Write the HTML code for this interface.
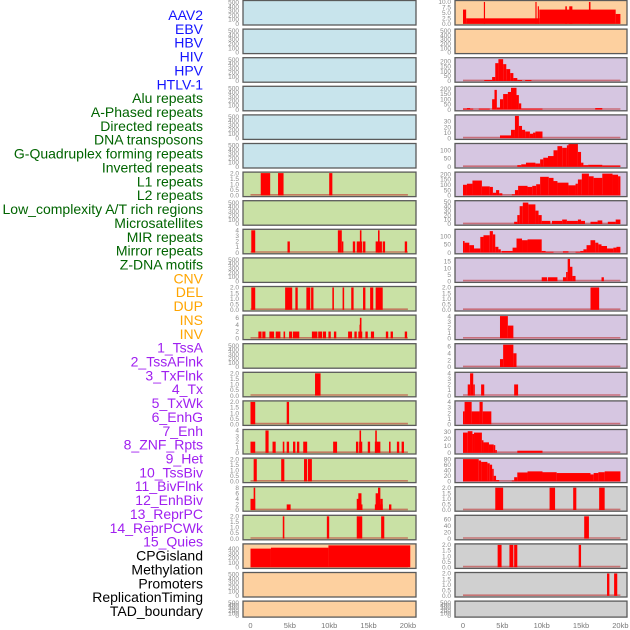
<!DOCTYPE html>
<html><head><meta charset="utf-8"><style>
html,body{margin:0;padding:0;background:#fff;}
svg{display:block;font-family:"Liberation Sans",sans-serif;}
</style></head><body>
<svg id="chart" width="630" height="630" viewBox="0 0 630 630" xmlns="http://www.w3.org/2000/svg"></svg>
<script>
// ---- track labels ----
const trackLabels = ["AAV2","EBV","HBV","HIV","HPV","HTLV-1","Alu repeats","A-Phased repeats","Directed repeats","DNA transposons","G-Quadruplex forming repeats","Inverted repeats","L1 repeats","L2 repeats","Low_complexity A/T rich regions","Microsatellites","MIR repeats","Mirror repeats","Z-DNA motifs","CNV","DEL","DUP","INS","INV","1_TssA","2_TssAFlnk","3_TxFlnk","4_Tx","5_TxWk","6_EnhG","7_Enh","8_ZNF_Rpts","9_Het","10_TssBiv","11_BivFlnk","12_EnhBiv","13_ReprPC","14_ReprPCWk","15_Quies","CPGisland","Methylation","Promoters","ReplicationTiming","TAD_boundary"];
const labelGroupSizes = [6,13,5,15,5];
const labelGroupColors = ["#1414ff","#006400","#ffa500","#a020f0","#000000"];

// ---- x axis ----
const xTicks = [0,5,10,15,20];
const xTickLabels = ["0","5kb","10kb","15kb","20kb"];

// ---- left column tracks (22 rows) ----
const leftFill = ["b","b","b","b","b","b","g","g","g","g","g","g","g","g","g","g","g","g","g","o","o","o"];
const leftYmax = [520,520,520,520,520,520,2,520,4,520,2,6.5,520,2,2,4,2,8,2,480,520,520];
const leftTicks = [
 [0,100,200,300,400,500],[0,100,200,300,400,500],[0,100,200,300,400,500],[0,100,200,300,400,500],[0,100,200,300,400,500],[0,100,200,300,400,500],
 [0,0.5,1,1.5,2],[0,100,200,300,400,500],[0,1,2,3,4],[0,100,200,300,400,500],[0,0.5,1,1.5,2],[0,2,4,6],[0,100,200,300,400,500],
 [0,0.5,1,1.5,2],[0,0.5,1,1.5,2],[0,1,2,3,4],[0,0.5,1,1.5,2],[0,2,4,6,8],[0,0.5,1,1.5,2],[0,100,200,300,400],[0,100,200,300,400,500],[0,100,200,300,400,500]];
const leftSegs = [
 [],[],[],[],[],[],
 [[1.3,2.5,2],[3.5,4.2,2],[10.0,10.4,2]],
 [],
 [[0.1,0.6,4],[4.7,5.0,2],[11.1,11.6,4],[11.6,11.8,2],[13.0,13.3,2],[13.5,14.2,2],[13.9,14.1,4],[14.3,14.6,2],[15.9,16.7,2],[16.2,16.4,4],[16.8,17.1,2],[19.6,19.9,2]],
 [],
 [[0.1,0.6,2],[4.4,5.3,2],[5.7,6.0,2],[7.1,7.6,2],[7.7,8.0,2],[10.4,10.6,2],[11.7,11.9,2],[12.8,13.1,2],[14.3,14.6,2],[15.2,15.6,2],[15.9,16.8,2]],
 [[1.0,1.4,2],[1.5,1.9,2],[2.4,3.0,2],[3.2,3.8,2],[4.2,4.4,2],[4.9,5.3,2],[5.4,6.2,2],[7.8,8.5,2],[8.6,9.1,2],[9.2,9.6,2],[9.9,10.2,2],[10.6,10.9,2],[12.4,12.9,2],[13.2,13.5,2],[13.7,14.2,2],[13.85,13.95,4],[13.9,14.1,6],[14.6,14.9,2],[15.3,15.7,2],[17.2,17.5,2],[17.8,18.1,2],[19.6,19.9,2]],
 [],
 [[8.2,8.9,2]],
 [[0.0,0.6,2],[4.6,4.9,2]],
 [[0.0,0.6,2],[1.9,2.3,4],[2.8,3.2,2],[4.1,4.3,2],[4.6,4.9,2],[5.4,5.7,2],[5.9,6.2,2],[6.7,7.2,2],[10.5,11.0,2],[13.4,13.7,2],[13.8,14.2,2],[13.85,14.05,4],[14.9,15.2,2],[15.8,16.5,2],[15.85,16.05,4],[17.6,17.8,2],[18.6,18.9,2],[19.2,19.5,2]],
 [[0.4,0.8,2],[3.9,4.3,2],[6.8,7.2,2],[7.3,7.8,2]],
 [[0.0,0.6,4],[0.4,0.6,8],[4.6,5.1,2],[13.5,14.1,4],[13.7,14.1,6],[14.1,14.2,2],[15.8,16.8,2],[15.9,16.2,6],[16.2,16.5,8],[16.5,16.8,4],[17.6,17.9,2]],
 [[4.1,4.3,2],[9.7,10.0,2],[13.5,14.2,2],[16.6,17.0,2]],
 [[0.0,2.6,400],[2.6,9.9,420],[9.9,20.3,470]],
 [],[]];

// ---- right column tracks (22 rows) ----
const rightFill = ["o","o","p","p","p","p","p","p","p","p","p","p","p","p","p","p","p","k","k","k","k","k"];
const rightYmax = [10.2,520,225,215,40,135,210,50,135,17,2,4,6.5,4,4,32,80,2,70,2,2,520];
const rightTicks = [
 [0,2.5,5,7.5,10],[0,100,200,300,400,500],[0,50,100,150,200],[0,50,100,150,200],[0,10,20,30],[0,50,100],[0,50,100,150,200],[0,10,20,30,40,50],[0,50,100],[0,5,10,15],[0,0.5,1,1.5,2],
 [0,1,2,3,4],[0,2,4,6],[0,1,2,3,4],[0,1,2,3,4],[0,10,20,30],[0,20,40,60,80],[0,0.5,1,1.5,2],[0,20,40,60],[0,0.5,1,1.5,2],[0,0.5,1,1.5,2],[0,100,200,300,400,500]];
const rightSegs = [
 [[0.0,0.4,6.5],[0.4,9.7,2.5],[2.65,2.8,10],[9.2,9.35,10],[9.5,9.65,8],[9.7,19.4,6.5],[13.0,13.2,8],[13.5,13.9,8],[16.0,16.2,10],[19.4,20.0,4.5]],
 [],
 [[2.7,3.7,10],[3.7,4.1,40],[4.1,4.5,180],[4.5,5.1,220],[5.1,5.5,170],[5.5,6.0,120],[6.0,6.4,80],[6.4,6.9,30],[6.9,7.5,10],[7.9,8.7,10]],
 [[0.0,1.3,10],[0.5,0.9,15],[2.0,3.4,10],[3.7,4.0,100],[4.0,4.3,190],[4.3,4.7,20],[4.7,5.1,100],[5.1,5.7,150],[5.7,6.1,170],[6.1,6.8,210],[6.8,7.1,140],[7.1,7.4,60],[7.4,10.1,10],[16.8,17.7,15]],
 [[4.7,6.1,5],[6.1,6.6,15],[6.6,7.1,40],[7.1,7.5,22],[7.5,7.9,15],[7.9,8.5,12],[8.5,8.9,8],[8.9,9.2,10],[9.2,10.1,12]],
 [[6.9,7.4,10],[7.4,8.0,15],[8.0,9.2,25],[9.2,9.8,20],[9.8,10.2,45],[10.2,10.8,55],[10.8,11.5,65],[11.5,12.0,100],[12.0,12.6,125],[12.6,13.2,115],[13.2,13.4,130],[13.4,14.6,140],[14.6,15.0,90],[15.0,15.3,25],[15.3,15.9,10],[15.9,17.7,12],[17.7,20.0,8]],
 [[0.0,0.5,100],[0.5,1.2,110],[1.2,2.4,140],[2.4,3.4,85],[3.4,3.8,80],[3.8,4.2,25],[4.2,4.6,50],[4.6,5.0,20],[6.2,6.6,10],[6.6,7.0,50],[7.0,8.2,90],[8.2,8.8,80],[8.8,9.3,90],[9.3,9.8,105],[9.8,10.9,175],[10.9,11.5,165],[11.5,12.0,135],[12.0,13.4,120],[13.4,14.3,95],[14.3,14.6,110],[14.6,15.1,150],[15.1,16.0,205],[16.0,16.6,180],[16.6,17.7,165],[17.7,19.0,205],[19.0,19.7,195],[19.7,20.0,180]],
 [[6.5,6.9,5],[6.9,7.2,20],[7.2,7.6,40],[7.6,8.3,48],[8.3,9.2,44],[9.2,9.6,30],[9.6,10.0,20],[10.0,11.1,7],[11.3,12.6,7],[12.6,13.2,10],[13.2,14.6,7],[14.6,15.0,10],[15.0,15.5,7],[16.2,17.1,5],[17.1,17.7,8],[18.4,19.4,5],[19.4,20.0,10]],
 [[0.0,0.2,70],[0.2,0.8,60],[0.8,1.4,45],[1.4,2.2,25],[2.2,2.6,95],[2.6,3.4,105],[3.4,3.8,130],[3.8,4.1,110],[4.1,4.5,35],[4.5,4.8,20],[4.9,6.3,10],[6.3,6.8,30],[6.8,7.5,85],[7.5,8.2,75],[8.2,10.0,80],[10.0,10.5,10],[10.5,11.5,5],[12.7,13.4,8],[14.3,14.9,5],[14.9,15.3,10],[15.3,15.7,20],[15.7,16.2,45],[16.2,16.8,75],[16.8,17.2,60],[17.2,17.6,50],[17.6,18.3,40],[18.3,19.1,25],[19.1,19.5,30],[19.5,20.0,35]],
 [[10.0,10.7,3],[10.8,12.0,3],[12.7,13.1,3],[13.1,13.3,7],[13.3,13.6,17],[13.6,13.9,11],[13.9,14.3,4],[17.6,17.9,3]],
 [[16.2,17.3,2]],
 [[4.7,5.7,4],[5.7,6.4,2.3]],
 [[4.7,5.1,2.3],[5.1,6.4,6.5],[6.4,6.8,4]],
 [[0.6,0.9,2],[0.9,1.3,4],[1.3,1.5,2],[2.3,2.7,2],[6.5,7.0,2]],
 [[0.0,0.2,2.3],[0.2,1.1,4],[1.1,2.1,2.3],[2.1,2.5,4],[2.5,3.6,2.3]],
 [[0.0,0.6,29],[0.6,1.2,31],[1.2,1.4,27],[1.4,2.4,29],[2.4,2.6,18],[2.6,3.3,15],[3.3,3.9,12],[3.9,4.1,11],[4.1,4.3,4],[6.9,10.1,3]],
 [[0.0,2.0,80],[2.0,2.3,75],[2.3,3.1,70],[3.1,3.4,65],[3.4,3.7,60],[3.7,3.9,45],[3.9,4.2,20],[4.2,4.6,5],[6.2,6.5,3],[6.5,6.9,15],[6.9,8.2,32],[8.2,10.1,36],[10.1,11.9,33],[11.9,16.2,30],[16.2,16.6,25],[16.6,17.2,30],[17.2,18.0,33],[18.0,20.0,36]],
 [[4.1,5.1,2],[11.0,11.7,2],[14.0,14.4,2],[17.3,18.0,2]],
 [[15.4,16.0,70]],
 [[4.4,4.9,2],[5.9,6.4,2],[6.5,6.9,2],[14.7,15.0,2]],
 [[18.3,18.6,2],[19.2,19.6,2]],
 []];

const fillColors = {b:"#c8e4ec", g:"#c9e1a5", o:"#fdd09f", p:"#d6c6e1", k:"#d0d0d0"};
const NS = "http://www.w3.org/2000/svg";
const svg = document.getElementById("chart");
function mk(tag, attrs, parent){
  const e = document.createElementNS(NS, tag);
  for (const k in attrs) e.setAttribute(k, attrs[k]);
  (parent||svg).appendChild(e);
  return e;
}
function fmt(t, ticks){
  const frac = ticks.some(v => Math.abs(v - Math.round(v)) > 1e-9);
  return frac ? t.toFixed(1) : String(t);
}

// labels
let li = 0;
labelGroupSizes.forEach((n, gi) => {
  for (let k = 0; k < n; k++) {
    const t = mk("text", {x:203, y:20 + li*13.86, "text-anchor":"end", "font-size":"14", fill:labelGroupColors[gi]});
    t.textContent = trackLabels[li];
    
    
    li++;
  }
});

function drawColumn(colName, px0, pw, xBase, fills, ymaxs, ticksArr, segsArr){
  const xs = kb => xBase + kb*7.87;
  for (let r = 0; r < fills.length; r++) {
    const top = r*28.6 + 0.5;
    const h = r === fills.length-1 ? 16 : 24.5;
    const g = mk("g", {});
    
    
    mk("rect", {x:px0, y:top, width:pw, height:h, fill:fillColors[fills[r]]}, g);
    const yb = top + h - 1.2, yt = top + 1;
    const ys = v => yb - v/ymaxs[r]*(yb-yt);
    const segs = segsArr[r];
    if (segs.length) {
      const base = mk("line", {x1:xs(0), x2:xs(20), y1:yb-0.6, y2:yb-0.6, stroke:"rgba(190,40,40,0.55)", "stroke-width":"1.6"}, g);
      
      
    }
    segs.forEach(s => {
      const b = mk("rect", {x:xs(s[0]), y:ys(s[2]), width:Math.max(1, xs(s[1])-xs(s[0])), height:yb-ys(s[2]), fill:"#ff0000"}, g);
      
      
    });
    mk("rect", {x:px0, y:top, width:pw, height:h, fill:"none", stroke:"#5a5a5a", "stroke-width":"1.3"}, g);
    ticksArr[r].forEach(t => {
      const tl = mk("text", {x:px0-4, y:ys(t)+2.2, "text-anchor":"end", "font-size":"6.5", fill:"#8a8a8a"}, g);
      tl.textContent = fmt(t, ticksArr[r]);
      
      
    });
  }
  xTicks.forEach((t, i) => {
    const xl = mk("text", {x:xs(t), y:628, "text-anchor":"middle", "font-size":"7.5", fill:"#777"});
    xl.textContent = xTickLabels[i];
    
    
  });
}
drawColumn("left", 243, 173, 250.5, leftFill, leftYmax, leftTicks, leftSegs);
drawColumn("right", 455, 172, 463, rightFill, rightYmax, rightTicks, rightSegs);
</script>
</body></html>
